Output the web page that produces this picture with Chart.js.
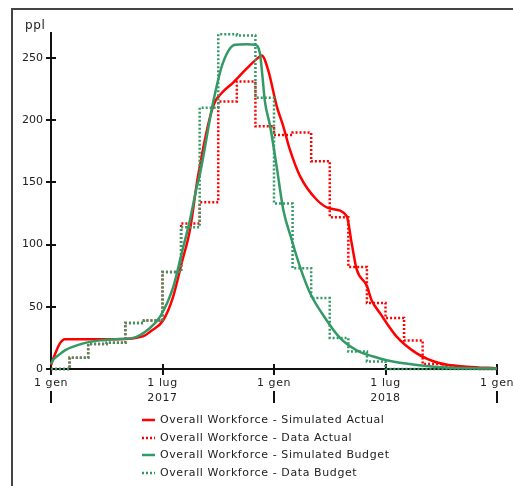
<!DOCTYPE html>
<html>
<head>
<meta charset="utf-8">
<script src="https://cdn.jsdelivr.net/npm/chart.js@4"></script>
<style>
  html, body { margin: 0; padding: 0; background: #fff; overflow: hidden; }
  #wrap { position: relative; width: 513px; height: 486px; overflow: hidden; }
  #cornice { position: absolute; left: 11px; top: 8px; width: 560px; height: 560px;
             border-left: 2px solid #444; border-top: 2px solid #444; }
  #box { position: absolute; left: 0; top: 0; width: 513px; height: 486px; }
  #legenda { position: absolute; left: 142px; top: 411px; font: 11px 'DejaVu Sans'; letter-spacing: 0.6px; color: #222; }
  .riga { height: 17.7px; line-height: 17.7px; white-space: nowrap; }
  .riga svg { vertical-align: middle; margin-right: 5px; }
</style>
</head>
<body>
<div id="wrap">
  <div id="cornice"></div>
  <div id="box"><canvas id="graficoForza"></canvas></div>
  <div id="legenda"></div>
</div>
<script>
// mesi da gen 2017 (0) a gen 2019 (24)
const mesi = [0,1,2,3,4,5,6,7,8,9,10,11,12,13,14,15,16,17,18,19,20,21,22,23,24];
const datiActual = [0, 9, 20, 21, 37, 39, 78, 117, 134, 215, 231, 195, 188, 190, 167, 122, 82, 53, 41, 23, 4, 2, 1, 0, 0];
const datiBudget = [0, 9, 20, 21, 37, 39, 78, 114, 210, 269, 268, 218, 133, 81, 57, 25, 14, 6, 0, 0, 0, 0, 0, 0, 0];

// curve simulate (tempo in mesi)
const tempiSimActual = [0, 0.13, 0.48, 0.75, 1.5, 2.6, 3.5, 4.35, 5.06, 5.33, 6.03, 6.57, 7.03, 7.48, 7.9, 8.72, 9.2, 9.79, 10.5, 11.14,
  11.34, 11.69, 12.15, 12.5, 12.86, 13.4, 14.3, 15.01, 15.91, 16.18, 16.45, 16.99, 17.26, 17.7, 18.6, 19.68, 20.93, 22.37, 24];
const simActual = [3, 8.6, 20.6, 24, 24, 24, 24, 24.5, 27, 30, 39, 58, 85, 112, 154, 211, 222, 230, 241, 250,
  252, 240, 211, 195, 176, 155, 136, 129, 123, 101, 80, 67, 55, 45, 26, 12.6, 4.6, 1.9, 0.5];

const tempiSimBudget = [0, 0.1, 0.4, 0.75, 1.74, 2.64, 3.5, 4.41, 5.33, 5.87, 6.58, 7.03, 7.48, 7.84, 8.02, 8.72, 9.23, 9.9, 10.53, 10.98,
  11.24, 11.38, 11.51, 11.78, 12.14, 12.5, 12.95, 13.4, 13.94, 14.84, 15.55, 16.45, 17.35, 18.06, 19.68, 21.47, 24];
const simBudget = [4, 7, 11, 15, 20.6, 23, 24, 25, 33, 42, 66, 93, 120, 146, 157, 214, 245, 260.5, 261, 260.5,
  254, 235, 215, 196, 163, 128, 104, 82, 61, 39, 25, 15, 10, 7, 3.2, 1, 0.5];

const mesiTacche = [0, 6, 12, 18, 24];
const etichetteMesi = ["1 gen", "1 lug", "1 gen", "1 lug", "1 gen"];
const mesiAnni = [6, 18];
const etichetteAnni = ["2017", "2018"];
const mesiSeparatori = [0, 12, 24];

const ROSSO = "#ff0000";
const VERDE = "#339966";
const FONT = "'DejaVu Sans', Verdana, sans-serif";

const punti = (xs, ys) => xs.map((x, i) => ({ x: x, y: ys[i] }));

const serie = [
  { label: "Overall Workforce - Simulated Actual", data: punti(tempiSimActual, simActual), colore: ROSSO, tratteggio: [], order: 3 },
  { label: "Overall Workforce - Data Actual", data: punti(mesi, datiActual), colore: ROSSO, tratteggio: [2, 2], order: 2, stepped: true },
  { label: "Overall Workforce - Simulated Budget", data: punti(tempiSimBudget, simBudget), colore: VERDE, tratteggio: [], order: 1 },
  { label: "Overall Workforce - Data Budget", data: punti(mesi, datiBudget), colore: VERDE, tratteggio: [2, 2], order: 0, stepped: true }
];

// tacche, etichette asse x e titolo "ppl"
const decorazioni = {
  id: "decorazioni",
  beforeDatasetsDraw(chart) {
    const { ctx, chartArea, scales: { x, y } } = chart;
    ctx.save();
    ctx.strokeStyle = "#111";
    ctx.lineWidth = 2;
    y.ticks.forEach(t => {
      const py = Math.round(y.getPixelForValue(t.value));
      ctx.beginPath();
      ctx.moveTo(chartArea.left - 5, py);
      ctx.lineTo(chartArea.left + 5, py);
      ctx.stroke();
    });
    mesiTacche.forEach(m => {
      const px = Math.round(x.getPixelForValue(m));
      ctx.beginPath();
      ctx.moveTo(px, chartArea.bottom - 5);
      ctx.lineTo(px, chartArea.bottom + 6);
      ctx.stroke();
    });
    mesiSeparatori.forEach(m => {
      const px = Math.round(x.getPixelForValue(m));
      ctx.beginPath();
      ctx.moveTo(px, chartArea.bottom + 22);
      ctx.lineTo(px, chartArea.bottom + 34);
      ctx.stroke();
    });
    ctx.fillStyle = "#222";
    ctx.font = "11px " + FONT;
    ctx.letterSpacing = "0.6px";
    ctx.textAlign = "center";
    ctx.textBaseline = "middle";
    mesiTacche.forEach((m, i) => {
      ctx.fillText(etichetteMesi[i], x.getPixelForValue(m), chartArea.bottom + 14);
    });
    mesiAnni.forEach((m, i) => {
      ctx.fillText(etichetteAnni[i], x.getPixelForValue(m), chartArea.bottom + 29);
    });
    ctx.textAlign = "left";
    ctx.font = "12px " + FONT;
    ctx.fillText("ppl", 25, 26);
    ctx.restore();
  }
};

const ctx = document.getElementById("graficoForza");

const grafico = new Chart(ctx, {
  type: "line",
  data: {
    datasets: serie.map(s => ({
      label: s.label,
      data: s.data,
      borderColor: s.colore,
      backgroundColor: s.colore,
      borderWidth: 2.5,
      borderDash: s.tratteggio,
      stepped: s.stepped || false,
      cubicInterpolationMode: s.stepped ? "default" : "monotone",
      pointRadius: 0,
      fill: false,
      clip: false,
      order: s.order
    }))
  },
  options: {
    responsive: true,
    maintainAspectRatio: false,
    devicePixelRatio: 1,
    animation: false,
    layout: { padding: { left: 0, top: 33, right: 16, bottom: 0 } },
    plugins: { legend: { display: false }, tooltip: { enabled: false } },
    scales: {
      x: {
        type: "linear",
        min: 0,
        max: 24,
        grid: { display: false, drawTicks: false },
        border: { display: true, color: "#111", width: 2 },
        ticks: { display: false },
        afterFit: s => { s.height = 117; }
      },
      y: {
        min: 0,
        max: 270,
        grid: { display: false, drawTicks: false },
        border: { display: true, color: "#111", width: 2 },
        ticks: { stepSize: 50, padding: 8, color: "#222", font: { family: FONT, size: 11 } },
        afterBuildTicks: s => { s.ticks = s.ticks.filter(t => t.value % 50 === 0); },
        afterFit: s => { s.width = 51; }
      }
    }
  },
  plugins: [decorazioni]
});

// legenda verticale sotto il grafico
const legenda = document.getElementById("legenda");
serie.forEach(s => {
  const riga = document.createElement("div");
  riga.className = "riga";
  const dash = s.tratteggio.length ? ' stroke-dasharray="2 2"' : "";
  riga.innerHTML = '<svg width="13" height="4"><line x1="0" y1="2" x2="13" y2="2" stroke="' + s.colore +
    '" stroke-width="2.5"' + dash + '/></svg>';
  riga.appendChild(document.createTextNode(s.label));
  legenda.appendChild(riga);
});
</script>
</body>
</html>
